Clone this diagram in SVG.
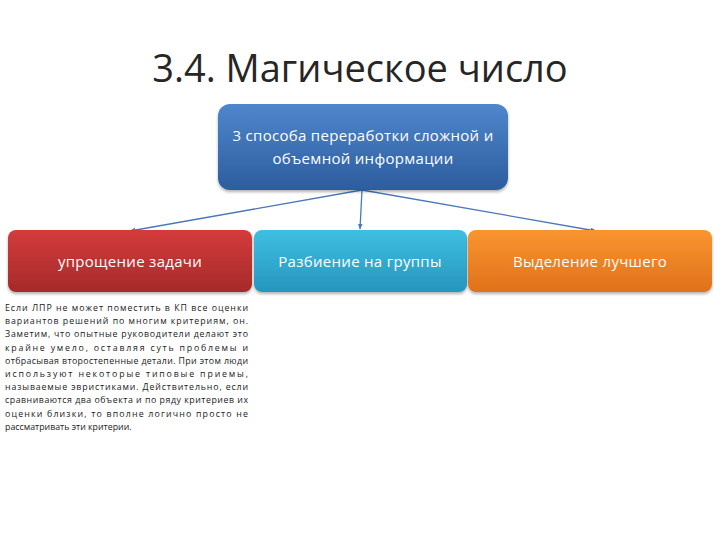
<svg xmlns="http://www.w3.org/2000/svg" width="720" height="540" viewBox="0 0 720 540">
<defs>
<linearGradient id="gBlue" x1="0" y1="0" x2="0" y2="1"><stop offset="0" stop-color="#4f86cc"/><stop offset="1" stop-color="#2c5d9e"/></linearGradient>
<linearGradient id="gRed" x1="0" y1="0" x2="0" y2="1"><stop offset="0" stop-color="#d43b3b"/><stop offset="1" stop-color="#a62a2a"/></linearGradient>
<linearGradient id="gCyan" x1="0" y1="0" x2="0" y2="1"><stop offset="0" stop-color="#3fbfe2"/><stop offset="1" stop-color="#2696bd"/></linearGradient>
<linearGradient id="gOrange" x1="0" y1="0" x2="0" y2="1"><stop offset="0" stop-color="#f9952f"/><stop offset="1" stop-color="#e0711b"/></linearGradient>
<marker id="arr" viewBox="0 0 10 10" refX="9" refY="5" markerWidth="4.5" markerHeight="4.5" orient="auto"><path d="M0,1 L10,5 L0,9 z" fill="#4a78b8"/></marker>
<filter id="sh" x="-10%" y="-10%" width="120%" height="130%"><feDropShadow dx="0" dy="2" stdDeviation="1.5" flood-color="#000" flood-opacity="0.3"/></filter>
</defs>
<style>
.title{font-family:"Open Sans","Liberation Sans",sans-serif;font-size:38px;fill:#262626;}
.lbl{font-family:"Open Sans","Liberation Sans",sans-serif;font-size:15px;letter-spacing:0.3px;fill:#fff;text-anchor:middle;}
.body{font-family:"Open Sans","Liberation Sans",sans-serif;font-size:8.8px;fill:#222;}
.con{stroke:#4a78b8;stroke-width:1.3;fill:none;marker-end:url(#arr);}
</style>
<rect width="720" height="540" fill="#fff"/>
<text class="title" x="360" y="82" text-anchor="middle">3.4. Магическое число</text>
<g id="connectors">
<line class="con" x1="362" y1="190" x2="130" y2="231"/>
<line class="con" x1="362" y1="190" x2="360" y2="229"/>
<line class="con" x1="362" y1="190" x2="596" y2="231"/>
</g>
<g id="root">
<rect x="218" y="104" width="290" height="86" rx="12" fill="url(#gBlue)" filter="url(#sh)"/>
<text class="lbl" x="363" y="141">3 способа переработки сложной и</text>
<text class="lbl" x="363" y="164">объемной информации</text>
</g>
<g id="n1">
<rect x="8" y="230" width="244" height="62" rx="8" fill="url(#gRed)" filter="url(#sh)"/>
<text class="lbl" x="130" y="267">упрощение задачи</text>
</g>
<g id="n2">
<rect x="254" y="230" width="213" height="62" rx="8" fill="url(#gCyan)" filter="url(#sh)"/>
<text class="lbl" x="360" y="267">Разбиение на группы</text>
</g>
<g id="n3">
<rect x="468" y="230" width="244" height="62" rx="8" fill="url(#gOrange)" filter="url(#sh)"/>
<text class="lbl" x="590" y="267">Выделение лучшего</text>
</g>
<g id="para">
<text class="body" x="5" y="311" textLength="243" lengthAdjust="spacing">Если ЛПР не может поместить в КП все оценки</text>
<text class="body" x="5" y="324" textLength="243" lengthAdjust="spacing">вариантов решений по многим критериям, он.</text>
<text class="body" x="5" y="337" textLength="243" lengthAdjust="spacing">Заметим, что опытные руководители делают это</text>
<text class="body" x="5" y="351" textLength="243" lengthAdjust="spacing">крайне умело, оставляя суть проблемы и</text>
<text class="body" x="5" y="364" textLength="243" lengthAdjust="spacing">отбрасывая второстепенные детали. При этом люди</text>
<text class="body" x="5" y="377" textLength="243" lengthAdjust="spacing">используют некоторые типовые приемы,</text>
<text class="body" x="5" y="390" textLength="243" lengthAdjust="spacing">называемые эвристиками. Действительно, если</text>
<text class="body" x="5" y="403" textLength="243" lengthAdjust="spacing">сравниваются два объекта и по ряду критериев их</text>
<text class="body" x="5" y="417" textLength="243" lengthAdjust="spacing">оценки близки, то вполне логично просто не</text>
<text class="body" x="5" y="430">рассматривать эти критерии.</text>
</g>
</svg>
